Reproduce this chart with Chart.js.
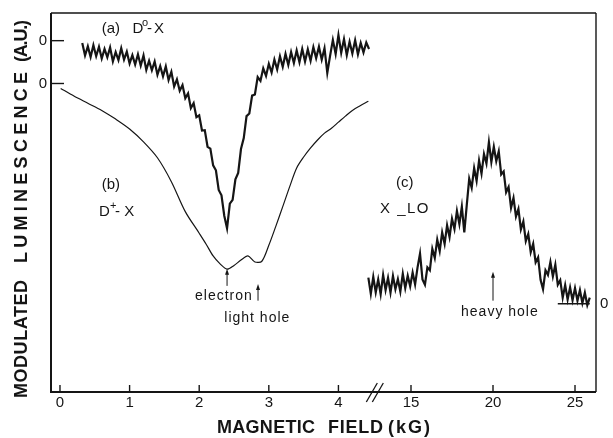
<!DOCTYPE html>
<html>
<head>
<meta charset="utf-8">
<script src="https://cdn.jsdelivr.net/npm/chart.js@4.4.1/dist/chart.umd.min.js"></script>
<style>
  html, body { margin: 0; padding: 0; background: #fff; }
</style>
</head>
<body>
<canvas id="chart" width="613" height="438"></canvas>
<script>
// broken field axis: 0-4.5 kG on the left, 12-26 kG on the right
const lowTicks = [0, 1, 2, 3, 4];
const highTicks = [15, 20, 25];
const tickLabels = ['0', '1', '2', '3', '4', '15', '20', '25'];

// zero levels of the three offset traces (arbitrary units)
const aZero = 92.7, bZero = 81.4, cZero = 23.3;

// (a) D0-X
const aField = [
  0.32,0.36,0.40,0.44,0.48,0.52,0.56,0.60,0.64,0.68,
  0.72,0.76,0.80,0.84,0.88,0.92,0.96,1.00,1.04,1.08,
  1.12,1.16,1.20,1.24,1.28,1.32,1.36,1.40,1.44,1.48,
  1.52,1.56,1.60,1.64,1.68,1.72,1.76,1.80,1.84,1.88,
  1.92,1.96,2.00,2.04,2.08,2.12,2.16,2.20,2.24,2.28,
  2.32,2.36,2.40,2.44,2.48,2.52,2.56,2.60,2.64,2.68,
  2.72,2.76,2.80,2.84,2.88,2.92,2.96,3.00,3.04,3.08,
  3.12,3.16,3.20,3.24,3.28,3.32,3.36,3.40,3.44,3.48,
  3.52,3.56,3.60,3.64,3.68,3.72,3.76,3.80,3.84,3.88,
  3.92,3.96,4.00,4.04,4.08,4.12,4.16,4.20,4.24,4.28,
  4.32,4.36,4.40,4.44
];
const aSignal = [
  -0.6,-3.9,-1.5,-4.3,-1.2,-4.1,-1.6,-4.7,-2.2,-4.4,
  -1.8,-5.5,-3.0,-5.1,-2.0,-5.0,-2.9,-6.0,-3.8,-6.3,
  -3.6,-6.6,-3.9,-7.7,-5.3,-7.8,-5.5,-9.0,-6.7,-9.4,
  -6.8,-10.4,-8.2,-12.1,-10.2,-13.2,-11.7,-15.2,-13.9,-17.8,
  -16.5,-20.2,-19.7,-23.7,-23.6,-28.0,-28.5,-32.9,-34.2,-39.4,
  -40.8,-46.2,-49.5,-43.0,-42.0,-36.6,-34.9,-28.6,-25.7,-19.9,
  -19.2,-14.5,-14.2,-9.6,-10.6,-7.3,-9.3,-6.1,-8.4,-5.0,
  -7.6,-4.1,-6.9,-3.5,-6.4,-3.0,-5.9,-2.6,-5.7,-2.2,
  -5.5,-2.3,-5.3,-1.7,-4.6,-1.6,-5.0,-2.0,-8.5,-4.0,
  0.2,-3.5,1.5,-3.2,0.4,-3.8,-0.3,-3.4,0.1,-3.6,
  -0.6,-3.1,-0.5,-2.2
];

// (b) D+-X
const bField = [
  0.01,0.2,0.4,0.6,0.8,1.0,1.2,1.4,1.6,1.8,
  2.0,2.1,2.2,2.3,2.4,2.5,2.6,2.7,2.8,2.9,
  3.0,3.1,3.2,3.3,3.4,3.5,3.6,3.7,3.8,3.9,
  4.0,4.1,4.2,4.3,4.43
];
const bSignal = [
  -1.3,-3.3,-5.2,-7.1,-9.4,-12.0,-15.4,-19.6,-25.9,-33.8,
  -39.5,-42.4,-45.5,-47.6,-49.0,-48.0,-46.6,-45.5,-47.1,-46.9,
  -42.7,-37.7,-32.5,-27.2,-22.3,-19.4,-17.0,-14.9,-13.1,-11.8,
  -10.2,-8.6,-7.1,-6.0,-4.7
];

// (c) X-LO
const cField = [
  12.40,12.55,12.70,12.85,13.00,13.15,13.30,13.45,13.60,13.75,
  13.90,14.05,14.20,14.35,14.50,14.65,14.80,14.95,15.10,15.25,
  15.40,15.55,15.70,15.85,16.00,16.15,16.30,16.45,16.60,16.75,
  16.90,17.05,17.20,17.35,17.50,17.65,17.80,17.95,18.10,18.25,
  18.40,18.55,18.70,18.85,19.00,19.15,19.30,19.45,19.60,19.75,
  19.90,20.05,20.20,20.35,20.50,20.65,20.80,20.95,21.10,21.25,
  21.40,21.55,21.70,21.85,22.00,22.15,22.30,22.45,22.60,22.75,
  22.90,23.05,23.20,23.35,23.50,23.65,23.80,23.95,24.10,24.25,
  24.40,24.55,24.70,24.85,25.00,25.15,25.30,25.45,25.60,25.75,
  25.90
];
const cSignal = [
  6.9,2.6,7.1,3.0,6.4,2.5,7.6,3.6,6.8,2.9,
  7.3,3.8,6.5,3.2,7.9,4.1,7.4,4.6,8.2,5.1,
  9.6,13.2,6.4,5.0,9.6,8.8,14.5,12.1,16.9,13.9,
  18.8,15.8,20.7,17.6,22.4,19.7,24.5,21.0,25.6,18.8,
  26.0,33.0,30.6,35.8,32.4,37.8,34.3,39.5,37.0,42.6,
  37.4,41.4,37.6,40.2,34.1,34.9,29.4,30.8,25.3,27.9,
  23.0,25.0,19.6,21.7,16.5,18.4,13.6,15.8,10.9,12.2,
  6.3,3.8,8.8,7.6,11.0,7.2,10.3,5.0,6.2,1.6,
  4.9,1.1,4.3,0.9,4.1,0.8,3.6,0.2,2.9,-0.4,
  1.6
];
const cBaseField = [23.95, 25.9];
const cBaseSignal = [0, 0];

const ink = '#151515';
const sans = '"Liberation Sans", Arial, sans-serif';

// both x scales span the whole plot; they are aligned so the break sits near 4.5 kG
const lowMin = -0.129, lowMax = 7.70;
const highMin = -6.95, highMax = 26.28;
const breakAt = 4.53;

function toLow(b) {
  return lowMin + (b - highMin) * (lowMax - lowMin) / (highMax - highMin);
}
function trace(field, signal, zero) {
  return field.map((b, i) => ({ x: b, y: zero + signal[i] }));
}

const f15 = '15px ' + sans;
const f14 = '14px ' + sans;
const fSup = '11px ' + sans;
const notes = [
  { axis: 'x', at: 0.60, y: 95.8, text: '(a)', font: f15 },
  { axis: 'x', at: 1.04, y: 95.8, text: 'D', font: f15 },
  { axis: 'x', at: 1.18, y: 97.3, text: 'o', font: fSup },
  { axis: 'x', at: 1.25, y: 95.8, text: '-X', font: f15, spacing: '2px' },
  { axis: 'x', at: 0.60, y: 54.7, text: '(b)', font: f15 },
  { axis: 'x', at: 0.56, y: 47.4, text: 'D', font: f15 },
  { axis: 'x', at: 0.72, y: 49.0, text: '+', font: fSup },
  { axis: 'x', at: 0.79, y: 47.4, text: '- X', font: f15 },
  { axis: 'x2', at: 14.09, y: 55.2, text: '(c)', font: f15 },
  { axis: 'x2', at: 13.11, y: 48.2, text: 'X _LO', font: f15, spacing: '1.5px' },
  { axis: 'x', at: 1.94, y: 25.4, text: 'electron', font: f14, spacing: '1px' },
  { axis: 'x', at: 2.36, y: 19.6, text: 'light hole', font: f14, spacing: '1px' },
  { axis: 'x2', at: 18.05, y: 21.2, text: 'heavy hole', font: f14, spacing: '1px' }
];
const arrows = [
  { axis: 'x', at: 2.40, from: 28.0, to: 32.5 },
  { axis: 'x', at: 2.845, from: 24.1, to: 28.5 },
  { axis: 'x2', at: 20.0, from: 24.1, to: 31.7 }
];
const xTitle = [['MAGNETIC', 217, 315], ['FIELD', 328, 383], ['(kG)', 388, 430]];
const yTitle = [['MODULATED', 398, 280], ['LUMINESCENCE', 263, 72], ['(A.U.)', 62, 20]];

function fitWord(ctx, text, span) {
  ctx.letterSpacing = '0px';
  const w = ctx.measureText(text).width;
  ctx.letterSpacing = ((span - w) / (text.length - 1)).toFixed(2) + 'px';
}

const decor = {
  id: 'decor',
  afterDraw(chart) {
    const { ctx, chartArea: a, scales } = chart;
    const seg = (x1, y1, x2, y2, w) => {
      ctx.lineWidth = w;
      ctx.beginPath(); ctx.moveTo(x1, y1); ctx.lineTo(x2, y2); ctx.stroke();
    };
    ctx.save();
    ctx.strokeStyle = ink;
    ctx.fillStyle = ink;

    // frame
    seg(a.left, a.top, a.right, a.top, 1.4);
    seg(a.right, a.top, a.right, a.bottom, 1.4);
    seg(a.left, a.top, a.left, a.bottom + 1, 2);
    seg(a.left - 1, a.bottom, a.right, a.bottom, 2);

    // inward tick marks
    scales.x.ticks.forEach(t => {
      const px = scales.x.getPixelForValue(t.value);
      seg(px, a.bottom, px, a.bottom - 7, 1.4);
    });
    scales.y.ticks.forEach(t => {
      const py = scales.y.getPixelForValue(t.value);
      seg(a.left, py, a.left + 13, py, 1.4);
    });

    // axis break
    const bx = scales.x.getPixelForValue(breakAt);
    seg(bx - 9, a.bottom + 10, bx + 2, a.bottom - 9, 1.3);
    seg(bx - 3, a.bottom + 10, bx + 8, a.bottom - 9, 1.3);

    // arrows
    arrows.forEach(ar => {
      const px = scales[ar.axis].getPixelForValue(ar.at);
      const y0 = scales.y.getPixelForValue(ar.from);
      const y1 = scales.y.getPixelForValue(ar.to);
      seg(px, y0, px, y1 + 4, 1);
      ctx.beginPath();
      ctx.moveTo(px, y1); ctx.lineTo(px - 2, y1 + 6); ctx.lineTo(px + 2, y1 + 6);
      ctx.closePath(); ctx.fill();
    });

    // labels
    ctx.textAlign = 'left';
    ctx.textBaseline = 'middle';
    notes.forEach(n => {
      ctx.font = n.font;
      ctx.letterSpacing = n.spacing || '0px';
      ctx.fillText(n.text, scales[n.axis].getPixelForValue(n.at), scales.y.getPixelForValue(n.y));
    });

    // axis titles
    ctx.font = 'bold 18px ' + sans;
    ctx.textBaseline = 'alphabetic';
    xTitle.forEach(([w, x0, x1]) => {
      fitWord(ctx, w, x1 - x0);
      ctx.fillText(w, x0, 433);
    });
    yTitle.forEach(([w, y0, y1]) => {
      fitWord(ctx, w, y0 - y1);
      ctx.save();
      ctx.translate(27, y0);
      ctx.rotate(-Math.PI / 2);
      ctx.fillText(w, 0, 0);
      ctx.restore();
    });
    ctx.restore();
  }
};

const line = (data, xAxisID, width) => ({
  data, xAxisID, yAxisID: 'y',
  borderColor: ink, borderWidth: width,
  pointRadius: 0, tension: 0, fill: false
});

const noGrid = { display: false, drawTicks: false };

new Chart(document.getElementById('chart'), {
  type: 'line',
  data: {
    datasets: [
      line(trace(aField, aSignal, aZero), 'x', 2.2),
      Object.assign(line(trace(bField, bSignal, bZero), 'x', 1.2), { tension: 0.3 }),
      line(trace(cField, cSignal, cZero), 'x2', 2.2),
      line(trace(cBaseField, cBaseSignal, cZero), 'x2', 1.6)
    ]
  },
  options: {
    responsive: false,
    animation: false,
    events: [],
    layout: { padding: { top: 10, left: 0, right: 0, bottom: 0 } },
    plugins: { legend: { display: false }, tooltip: { enabled: false } },
    scales: {
      x: {
        type: 'linear', position: 'bottom', min: lowMin, max: lowMax,
        grid: noGrid, border: { display: false },
        afterBuildTicks: s => { s.ticks = lowTicks.concat(highTicks.map(toLow)).map(v => ({ value: v })); },
        afterFit: s => { s.height = 46; },
        ticks: {
          autoSkip: false, maxRotation: 0, padding: 2, color: ink,
          font: { family: sans, size: 15 },
          callback: (v, i) => tickLabels[i]
        }
      },
      x2: { type: 'linear', min: highMin, max: highMax, display: false },
      y: {
        min: 0, max: 100,
        grid: noGrid, border: { display: false },
        afterBuildTicks: s => { s.ticks = [{ value: aZero }, { value: bZero }]; },
        afterFit: s => { s.width = 51; },
        ticks: { padding: 4, color: ink, font: { family: sans, size: 15 }, callback: () => '0' }
      },
      y2: {
        position: 'right', min: 0, max: 100,
        grid: noGrid, border: { display: false },
        afterBuildTicks: s => { s.ticks = [{ value: cZero }]; },
        afterFit: s => { s.width = 17; },
        ticks: { padding: 4, color: ink, font: { family: sans, size: 15 }, callback: () => '0' }
      }
    }
  },
  plugins: [decor]
});
</script>
</body>
</html>
